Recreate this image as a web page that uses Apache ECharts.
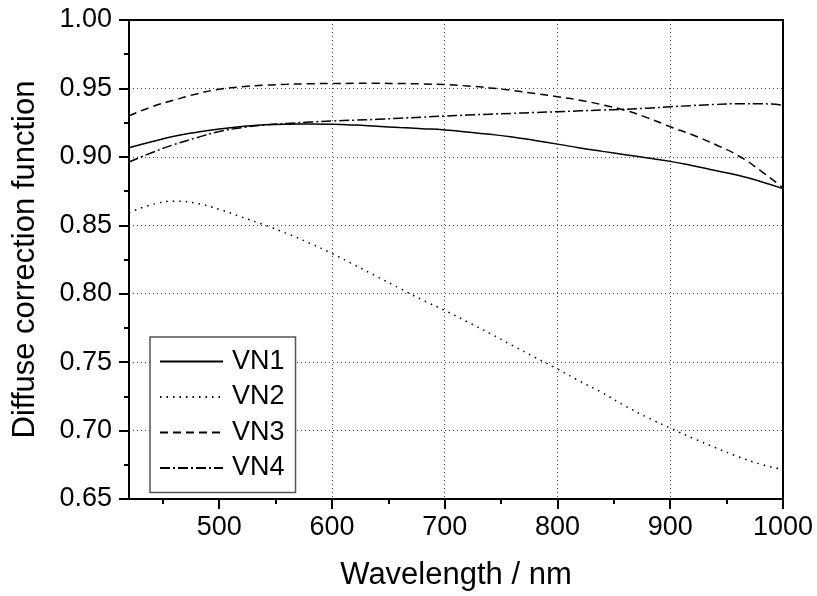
<!DOCTYPE html>
<html>
<head>
<meta charset="utf-8">
<script src="https://cdn.jsdelivr.net/npm/echarts@6/dist/echarts.min.js"></script>
<style>html,body{margin:0;padding:0;background:#fff}#c{width:817px;height:596px}</style>
</head>
<body>
<div id="c"></div>
<script>
const wavelengths = [420,440,460,480,500,520,540,560,580,600,620,640,660,680,700,720,740,760,780,800,820,840,860,880,900,920,940,960,980,1000];
const vn1 = [0.9066,0.9110,0.9150,0.9180,0.9204,0.9222,0.9234,0.9239,0.9240,0.9238,0.9232,0.9223,0.9214,0.9206,0.9197,0.9182,0.9165,0.9145,0.9120,0.9093,0.9065,0.9040,0.9016,0.8992,0.8967,0.8935,0.8900,0.8866,0.8820,0.8768];
const vn2 = [0.8591,0.8650,0.8676,0.8660,0.8616,0.8560,0.8502,0.8440,0.8370,0.8294,0.8210,0.8125,0.8040,0.7955,0.7878,0.7795,0.7710,0.7622,0.7535,0.7450,0.7360,0.7275,0.7180,0.7095,0.7018,0.6945,0.6875,0.6810,0.6755,0.6715];
const vn3 = [0.9300,0.9365,0.9415,0.9460,0.9494,0.9512,0.9524,0.9530,0.9534,0.9536,0.9537,0.9537,0.9536,0.9533,0.9528,0.9518,0.9504,0.9485,0.9463,0.9439,0.9414,0.9380,0.9340,0.9285,0.9220,0.9160,0.9090,0.9010,0.8900,0.8773];
const vn4 = [0.8962,0.9030,0.9090,0.9140,0.9185,0.9213,0.9232,0.9244,0.9254,0.9262,0.9268,0.9274,0.9282,0.9290,0.9298,0.9305,0.9312,0.9318,0.9324,0.9330,0.9336,0.9342,0.9348,0.9356,0.9366,0.9375,0.9383,0.9388,0.9388,0.9378];
const seriesNames = ['VN1','VN2','VN3','VN4'];
const xMajorTicks = [500,600,700,800,900,1000];
const xMinorTicks = [450,550,650,750,850,950];
const xTitle = 'Wavelength / nm';
const yTitle = 'Diffuse correction function';

const FONT = "'Liberation Sans', Arial, sans-serif";
const chart = echarts.init(document.getElementById('c'), null, {renderer: 'canvas'});
const pair = arr => wavelengths.map((w, i) => [w, arr[i]]);
const dashes = ['solid', [1.5, 5], [8, 5], [10, 3, 2, 3]];
const allData = [vn1, vn2, vn3, vn4];

chart.setOption({
  animation: false,
  backgroundColor: '#fff',
  grid: {left: 129, right: 34, top: 20, bottom: 93, show: true, borderColor: '#000', borderWidth: 2, backgroundColor: 'transparent'},
  legend: {
    orient: 'vertical', left: 150, top: 337,
    itemWidth: 63, itemHeight: 14, itemGap: 8.5,
    padding: [11, 11, 11, 9],
    borderColor: '#555', borderWidth: 1.5, backgroundColor: '#fff',
    itemStyle: {color: 'rgba(0,0,0,0)', borderWidth: 0, opacity: 0},
    textStyle: {fontFamily: FONT, fontSize: 27, color: '#000', lineHeight: 26, padding: [0, 0, 0, 4]},
    data: seriesNames
  },
  xAxis: [{
    type: 'value', position: 'bottom', min: 420, max: 1000,
    name: xTitle, nameLocation: 'middle', nameGap: 61,
    nameTextStyle: {fontFamily: FONT, fontSize: 31, color: '#000'},
    axisLine: {show: true, lineStyle: {color: '#000', width: 2}},
    axisTick: {show: true, length: 10, customValues: xMajorTicks, lineStyle: {color: '#000', width: 2}},
    axisLabel: {show: true, customValues: xMajorTicks, margin: 15, fontFamily: FONT, fontSize: 27, color: '#000', formatter: v => String(v)},
    splitLine: {show: true, showMinLine: false, showMaxLine: false, lineStyle: {color: '#444', width: 1, type: [1, 3]}}
  }, {
    type: 'value', position: 'bottom', min: 420, max: 1000,
    axisLine: {show: false},
    axisTick: {show: true, length: 5, customValues: xMinorTicks, lineStyle: {color: '#000', width: 2}},
    axisLabel: {show: false},
    splitLine: {show: false}
  }],
  yAxis: {
    type: 'value', min: 0.65, max: 1.0, interval: 0.05,
    name: yTitle, nameLocation: 'middle', nameGap: 88,
    nameTextStyle: {fontFamily: FONT, fontSize: 31, color: '#000'},
    axisLine: {show: true, lineStyle: {color: '#000', width: 2}},
    axisTick: {show: true, length: 10, lineStyle: {color: '#000', width: 2}},
    minorTick: {show: true, splitNumber: 2, length: 5, lineStyle: {color: '#000', width: 2}},
    axisLabel: {margin: 17, fontFamily: FONT, fontSize: 27, color: '#000', formatter: v => v.toFixed(2)},
    splitLine: {show: true, showMinLine: false, showMaxLine: false, lineStyle: {color: '#444', width: 1, type: [1, 3]}}
  },
  series: seriesNames.map((name, i) => ({
    name, type: 'line', xAxisIndex: 0, showSymbol: false, symbol: 'none', smooth: true,
    data: pair(allData[i]),
    lineStyle: {color: '#000', width: 1.5, type: dashes[i]},
    itemStyle: {color: '#000'}
  }))
});
</script>
</body>
</html>
